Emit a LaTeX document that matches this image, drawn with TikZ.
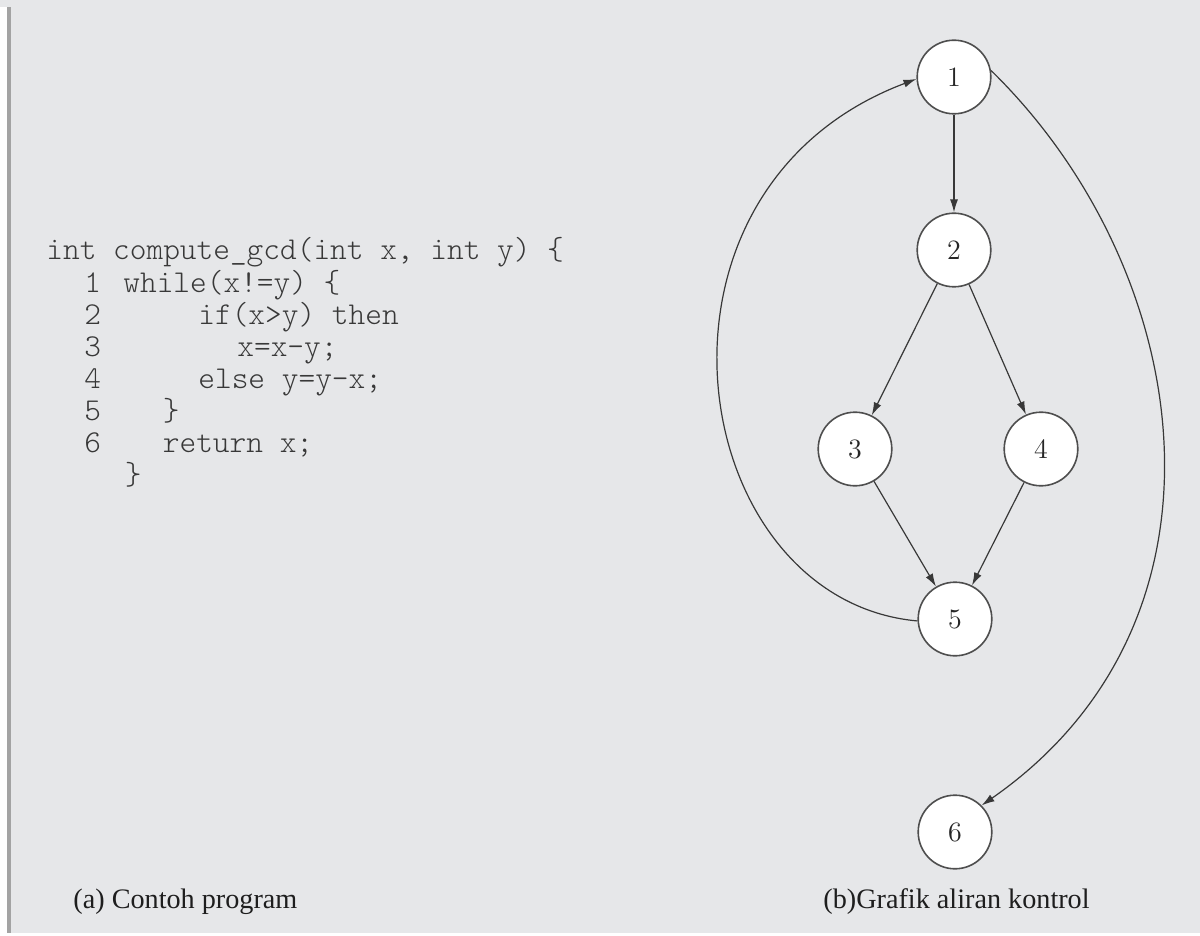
\documentclass[tikz,border=0pt]{standalone}
\usepackage{fontspec}
\newfontfamily\codefont{lmmonolt10-regular.otf}
\newfontfamily\capfont{Liberation Serif}
\usetikzlibrary{arrows.meta}
\definecolor{bgcol}{HTML}{E6E7E9}
\definecolor{framecol}{HTML}{A3A3A3}
\definecolor{nodeline}{HTML}{4E4E4E}
\definecolor{edgecol}{HTML}{383838}
\definecolor{codecol}{HTML}{383838}
\definecolor{capcol}{HTML}{1E1E1E}
\tikzset{
  state/.style={circle, draw=nodeline, fill=white, line width=0.8pt,
    minimum size=36.8pt, inner sep=0pt, font=\fontsize{14}{16}\selectfont, text=black!85},
  flow/.style={draw=edgecol, line width=0.6pt, -{Latex[length=6.5pt,width=4pt]}},
  codetxt/.style={anchor=base west, inner sep=0pt, text=codecol,
    font=\codefont\fontsize{15.9}{18}\selectfont},
  captxt/.style={anchor=base west, inner sep=0pt, text=capcol,
    font=\capfont\fontsize{14.1}{16}\selectfont}
}
\begin{document}
\begin{tikzpicture}[x=0.5pt,y=-0.5pt]
\useasboundingbox (0,0) rectangle (1200,936);
\fill[bgcol] (0,0) rectangle (1200,936);
\fill[white] (0,7) rectangle (7,936);
\fill[framecol] (7,7) rectangle (11,936);
\fill[white] (0,933) rectangle (1200,936);

% code listing
\node[codetxt] (c0) at (46,260.0) {int compute\_gcd(int x, int y) \{};
\node[codetxt] (l1) at (84,292.1) {1};
\node[codetxt] (c1) at (123,292.1) {while(x!=y) \{};
\node[codetxt] (l2) at (84,324.2) {2};
\node[codetxt] (c2) at (198,324.2) {if(x>y) then};
\node[codetxt] (l3) at (84,356.3) {3};
\node[codetxt] (c3) at (237,356.3) {x=x-y;};
\node[codetxt] (l4) at (84,388.4) {4};
\node[codetxt] (c4) at (198,388.4) {else y=y-x;};
\node[codetxt] (l5) at (84,420.5) {5};
\node[codetxt] (c5) at (162.5,420.5) {\}};
\node[codetxt] (l6) at (84,452.6) {6};
\node[codetxt] (c6) at (162.5,452.6) {return x;};
\node[codetxt] (c7) at (124.5,484.7) {\}};

% captions
\node[captxt] (capa) at (73,908) {(a) Contoh program};
\node[captxt] (capb) at (823,908) {(b)Grafik aliran kontrol};

% control flow graph
\node[state] (n1) at (954,77) {1};
\node[state] (n2) at (954,250) {2};
\node[state] (n3) at (855,449) {3};
\node[state] (n4) at (1041,449) {4};
\node[state] (n5) at (955,619) {5};
\node[state] (n6) at (955,832) {6};

\draw[flow] (n1) -- (n2);
\draw[flow] (n2) -- (n3);
\draw[flow] (n2) -- (n4);
\draw[flow] (n3) -- (n5);
\draw[flow] (n4) -- (n5);
\draw[flow] (n5.183) .. controls (685,600) and (622,190) .. (n1.183);
\draw[flow] (n1.10) .. controls (1195,270) and (1248,620) .. (n6.45);
\end{tikzpicture}
\end{document}
